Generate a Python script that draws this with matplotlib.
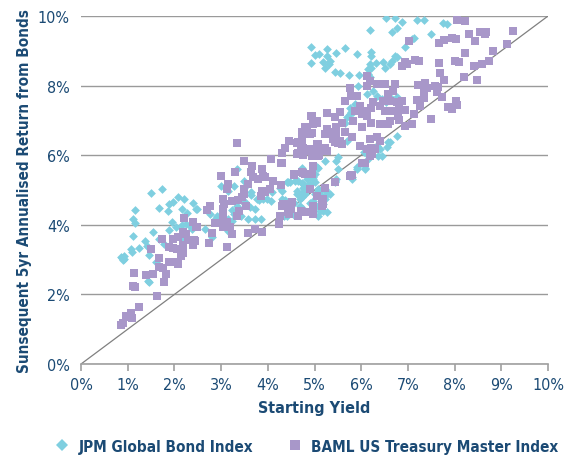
import matplotlib
matplotlib.use("Agg")
import matplotlib.pyplot as plt
from matplotlib.lines import Line2D

plt.rcParams['font.family'] = ['DejaVu Sans']
plt.rcParams['font.stretch'] = 'condensed'

# JPM Global Bond Index  (starting yield %, subsequent 5yr return %)
jpm_low = [(0.88, 3.05), (0.90, 3.00), (0.93, 3.10), (0.91, 3.02), (0.86, 3.08),
           (1.06, 3.30), (1.09, 3.22), (1.12, 3.69), (1.11, 4.17), (1.16, 4.05), (1.16, 4.43),
           (1.24, 3.33), (1.38, 3.53), (1.41, 3.40), (1.45, 3.13), (1.43, 2.39), (1.46, 2.36),
           (1.50, 4.90), (1.73, 5.03), (1.54, 3.80), (1.61, 2.93), (1.68, 4.47), (1.66, 3.59),
           (1.77, 3.45), (1.86, 4.41), (1.89, 4.60), (1.98, 4.66), (2.07, 4.79), (2.21, 4.74),
           (2.16, 4.45), (2.27, 4.33), (2.39, 4.64), (2.46, 4.45), (1.94, 4.07), (2.03, 3.95),
           (1.88, 3.86), (2.16, 4.00), (2.25, 4.02), (2.33, 3.98), (2.16, 3.61), (2.37, 3.88)]
jpm_mid = [(2.48, 4.45), (2.66, 3.88), (2.76, 4.31), (2.80, 3.64), (2.88, 4.21), (2.91, 4.26),
           (3.01, 4.18), (3.05, 4.17), (3.08, 4.12), (3.15, 4.17), (3.23, 4.12), (3.00, 5.12),
           (3.15, 4.98), (3.28, 5.12), (3.33, 5.60), (3.50, 5.27), (3.48, 5.07), (3.65, 4.93),
           (3.64, 4.86), (3.12, 3.90), (3.15, 3.83), (3.23, 4.43), (3.33, 4.43), (3.28, 4.31),
           (3.33, 4.55), (3.48, 4.64), (3.51, 4.66), (3.43, 4.24), (3.57, 4.17), (3.73, 4.17),
           (3.85, 4.17), (3.62, 4.50), (3.73, 4.45), (3.76, 4.74), (3.81, 4.72), (3.90, 4.74),
           (3.98, 4.74), (4.07, 4.69), (4.08, 4.93), (4.26, 5.07), (4.31, 4.98), (4.30, 4.74),
           (4.37, 4.72), (4.40, 5.24), (4.48, 5.24), (4.58, 5.27), (4.65, 5.27), (4.73, 5.20),
           (4.44, 5.22), (4.62, 4.89), (4.69, 4.74), (4.55, 4.64), (4.69, 4.55), (4.76, 4.45),
           (4.90, 4.64), (4.97, 4.45), (4.48, 4.50), (4.34, 4.26), (4.40, 4.24), (4.56, 4.29),
           (4.73, 5.62), (4.94, 5.51), (4.97, 5.32), (4.83, 5.41), (4.62, 4.98), (4.80, 4.89),
           (4.73, 4.79), (4.76, 5.07), (4.87, 5.12), (4.97, 5.36), (5.01, 5.22), (4.97, 5.60),
           (5.01, 5.46), (4.83, 5.32), (4.76, 5.17), (4.90, 5.17), (4.76, 4.93), (4.97, 4.69)]
jpm_diag = [(5.08, 5.03), (5.22, 5.03), (5.12, 4.89), (5.01, 4.89), (5.08, 4.55), (5.19, 4.60),
            (5.19, 4.41), (5.22, 4.84), (5.22, 4.74), (5.26, 4.93), (5.33, 4.89), (5.12, 4.41),
            (5.08, 4.26), (5.26, 4.36), (5.12, 4.60), (5.12, 4.98), (5.05, 5.65), (5.08, 5.62),
            (5.22, 5.84), (5.47, 5.84), (5.51, 5.94), (5.50, 5.60), (5.44, 5.27), (5.47, 5.32),
            (5.44, 5.22), (5.80, 5.36), (5.80, 5.32), (5.90, 5.60), (6.08, 5.60), (5.90, 5.65),
            (6.05, 5.75), (6.08, 5.63), (5.69, 6.40), (6.05, 6.08), (6.12, 6.03), (6.15, 5.89),
            (6.19, 6.13), (6.33, 6.23), (6.40, 6.18), (6.37, 5.99), (6.44, 5.99), (6.55, 6.23),
            (6.62, 6.37), (6.76, 6.56), (6.58, 6.37), (6.33, 6.27)]
jpm_high = [(5.65, 6.94), (5.69, 7.09), (5.76, 7.37), (5.79, 7.23), (5.87, 7.47), (5.83, 7.23),
            (5.76, 7.18), (5.90, 7.37), (5.94, 8.00), (6.12, 7.76), (6.26, 7.85), (6.33, 7.71),
            (6.44, 7.61), (6.54, 7.52), (6.65, 7.61), (6.76, 7.66), (5.44, 8.38), (5.54, 8.35),
            (5.73, 8.31), (5.96, 8.31), (6.19, 8.62), (6.15, 8.48), (6.22, 8.52), (6.15, 8.33),
            (6.19, 8.24), (6.32, 8.64), (6.47, 8.67), (6.51, 8.52), (6.62, 8.62), (6.65, 8.72),
            (6.76, 8.81), (6.72, 8.84), (4.93, 9.10), (5.01, 8.88), (5.10, 8.91), (4.93, 8.65),
            (5.26, 9.05), (5.26, 8.84), (5.19, 8.67), (5.22, 8.52), (5.30, 8.62), (5.33, 8.72),
            (5.47, 8.95), (5.65, 9.08), (5.92, 8.91), (6.21, 8.98), (6.21, 8.84), (6.19, 9.60),
            (6.54, 9.94), (6.72, 9.94), (6.76, 9.67), (6.65, 9.53), (6.87, 9.82), (7.19, 9.89),
            (7.35, 9.89), (7.75, 9.79), (7.83, 9.77), (7.49, 9.48), (7.12, 9.38), (7.09, 9.34),
            (6.94, 9.10)]

# BAML US Treasury Master Index
baml_low = [(0.86, 1.12), (0.89, 1.19), (0.96, 1.38), (1.03, 1.34), (1.10, 1.31), (1.08, 1.47),
            (1.25, 1.65), (1.62, 1.96), (1.11, 2.25), (1.16, 2.20), (1.14, 2.61), (1.39, 2.56),
            (1.55, 2.59), (1.82, 2.59), (1.77, 2.37), (1.66, 2.80), (1.75, 2.75), (1.68, 3.06),
            (1.89, 2.94), (2.02, 2.94), (2.07, 2.87), (1.50, 3.30), (1.89, 3.37), (1.96, 3.33),
            (2.05, 3.30), (2.18, 3.42), (2.19, 3.19), (2.14, 3.09), (1.73, 3.59), (1.98, 3.59),
            (2.07, 3.64), (2.30, 3.55), (2.42, 3.55), (2.39, 3.42), (2.18, 3.78), (2.25, 3.73),
            (2.21, 4.20), (2.39, 4.07), (2.46, 3.93), (2.44, 3.54), (2.48, 3.95)]
baml_mid = [(2.74, 3.48), (2.81, 3.76), (2.87, 4.05), (3.03, 3.93), (3.12, 4.07), (3.19, 3.93),
            (3.24, 3.74), (3.12, 3.35), (3.58, 3.76), (3.73, 3.88), (3.87, 3.80), (4.23, 4.02),
            (3.03, 4.17), (3.05, 4.31), (3.33, 4.26), (3.38, 4.41), (3.53, 4.55), (2.69, 4.43),
            (2.76, 4.55), (3.05, 4.45), (3.05, 4.74), (3.07, 4.60), (3.24, 4.67), (3.12, 5.03),
            (3.15, 5.17), (3.00, 5.41), (3.30, 5.53), (3.58, 5.17), (3.50, 5.03), (3.48, 4.89),
            (3.44, 4.79), (3.37, 4.72), (3.87, 4.98), (3.85, 4.82), (3.94, 4.93), (4.05, 5.02),
            (4.12, 5.27), (4.28, 5.14), (3.50, 5.82), (3.67, 5.70), (3.65, 5.53), (3.87, 5.60),
            (3.90, 5.41), (3.94, 5.36), (3.80, 5.32), (3.69, 5.36), (3.35, 6.35), (4.07, 5.89),
            (4.30, 5.79), (4.37, 6.22), (4.46, 6.42), (4.31, 6.05), (4.62, 6.35), (4.65, 6.05),
            (4.71, 6.20), (4.74, 6.47), (4.57, 5.46), (4.73, 5.51), (4.80, 5.46), (4.55, 5.43),
            (4.94, 5.46), (4.30, 4.53), (4.40, 4.53), (4.48, 4.60), (4.51, 4.66), (4.46, 4.31),
            (4.71, 4.41), (4.26, 4.26), (4.33, 4.60), (4.44, 4.55), (4.49, 4.45), (4.44, 4.36),
            (4.80, 4.36), (4.97, 4.31), (4.65, 4.26), (4.97, 4.53), (5.15, 4.55), (4.90, 5.03),
            (5.06, 4.84), (5.22, 5.05), (5.19, 4.74), (5.17, 4.64), (5.44, 5.24), (4.97, 5.68),
            (4.76, 5.48), (5.18, 4.60), (5.80, 5.44), (5.76, 5.41)]
baml_upper = [(4.73, 6.66), (4.87, 6.61), (4.83, 6.75), (4.94, 6.64), (5.22, 6.61), (5.33, 6.66),
              (5.26, 6.75), (5.47, 6.61), (5.51, 6.35), (5.44, 6.37), (4.73, 6.37), (4.76, 6.22),
              (4.90, 6.18), (5.08, 6.32), (5.22, 6.22), (5.26, 6.13), (5.10, 6.01), (4.94, 5.98),
              (4.76, 6.01), (4.62, 6.03), (4.93, 7.12), (5.05, 6.94), (4.82, 6.77), (4.90, 6.61),
              (4.65, 6.39), (4.97, 6.18), (5.05, 6.32), (4.29, 5.78), (4.80, 6.80), (4.97, 6.90),
              (5.47, 6.80), (5.65, 6.66), (5.80, 6.51), (5.97, 6.27), (6.19, 6.47), (6.33, 6.51),
              (6.40, 6.42), (6.01, 6.80), (6.40, 6.90), (6.58, 6.90), (5.40, 6.47), (5.54, 6.42),
              (5.58, 6.32), (5.12, 6.13), (5.08, 5.99), (4.87, 6.13), (6.12, 6.18), (6.22, 6.22),
              (6.24, 6.03), (6.08, 5.79), (6.19, 5.99), (6.29, 6.18), (6.01, 5.79), (5.79, 5.43),
              (5.26, 7.20), (5.44, 7.09), (5.54, 7.23), (5.58, 6.94), (5.05, 6.99), (4.94, 7.13),
              (5.83, 6.99), (6.22, 6.94), (6.44, 6.90), (6.62, 6.99), (6.12, 8.28), (6.19, 8.14),
              (5.75, 7.93), (5.79, 7.71), (5.90, 7.71), (6.12, 8.00), (6.33, 8.05), (6.51, 8.05),
              (6.72, 8.05), (6.58, 7.76), (6.69, 7.85), (6.47, 7.57), (6.62, 7.57), (6.80, 7.52),
              (6.26, 7.54), (6.22, 7.37), (6.08, 7.28), (5.97, 7.42), (5.87, 7.28), (6.01, 7.18),
              (6.12, 7.13), (6.40, 7.42), (6.51, 7.28), (6.62, 7.28), (6.76, 7.28), (5.65, 7.57)]
baml_high = [(8.06, 9.89), (8.22, 9.85), (9.26, 9.58), (8.54, 9.53), (8.64, 9.48), (8.67, 9.53),
             (8.31, 9.48), (7.95, 9.37), (8.04, 9.34), (7.78, 9.31), (7.67, 9.23), (8.44, 9.29),
             (7.03, 9.29), (9.12, 9.20), (8.83, 9.00), (8.22, 8.94), (7.15, 8.74), (7.24, 8.72),
             (6.94, 8.67), (6.99, 8.62), (6.88, 8.57), (7.67, 8.65), (8.01, 8.72), (8.10, 8.69),
             (8.74, 8.72), (8.58, 8.61), (8.42, 8.57), (7.69, 8.36), (7.78, 8.17), (8.21, 8.24),
             (8.47, 8.16), (7.22, 8.03), (7.37, 8.07), (7.40, 7.93), (7.35, 7.85), (7.57, 8.00),
             (7.64, 7.97), (7.62, 7.83), (7.74, 7.68), (7.35, 7.64), (7.19, 7.59), (6.87, 7.55),
             (6.76, 7.52), (6.80, 7.42), (8.03, 7.57), (8.06, 7.45), (7.85, 7.39), (7.94, 7.33),
             (7.26, 7.42), (6.94, 7.30), (6.78, 7.13), (6.80, 7.01), (7.12, 7.18), (7.09, 6.91),
             (6.94, 6.85), (7.49, 7.04)]

jpm = jpm_low + jpm_mid + jpm_diag + jpm_high
baml = baml_low + baml_mid + baml_upper + baml_high

navy = '#1b4a74'
cyan = '#7fcfe0'
purple = '#a897c9'

fig = plt.figure(figsize=(5.73, 4.60), dpi=100)
ax = fig.add_axes([0.1414, 0.2065, 0.815, 0.7565])

ax.plot([0, 10], [0, 10], color='#808080', lw=0.9, zorder=1)
ax.scatter([p[0] for p in jpm], [p[1] for p in jpm], marker='D', s=20,
           color=cyan, linewidths=0, zorder=3)
ax.scatter([p[0] for p in baml], [p[1] for p in baml], marker='s', s=28,
           color=purple, linewidths=0, zorder=3)

ax.set_xlim(0, 10)
ax.set_ylim(0, 10)
ax.set_xticks(range(0, 11))
ax.set_xticklabels([f'{i}%' for i in range(0, 11)])
ax.set_yticks(range(0, 11, 2))
ax.set_yticklabels([f'{i}%' for i in range(0, 11, 2)])
ax.grid(axis='y', color='#9a9a9a', lw=1.0, zorder=0)
ax.set_axisbelow(True)
for s in ['left', 'right', 'top']:
    ax.spines[s].set_visible(False)
ax.spines['bottom'].set_color('#a0a0a0')
ax.spines['bottom'].set_linewidth(1.2)
ax.tick_params(axis='x', colors='#a0a0a0', length=5, width=1.2, direction='out',
               labelcolor=navy, labelsize=11.5, pad=4)
ax.tick_params(axis='y', length=0, labelcolor=navy, labelsize=11.5, pad=8)

ax.set_xlabel('Starting Yield', color=navy, fontsize=11.5, fontweight='bold', labelpad=6)
ax.set_ylabel('Sunsequent 5yr Annualised Return from Bonds', color=navy, fontsize=11,
              fontweight='bold', labelpad=4)

handles = [Line2D([], [], marker='D', ls='none', color=cyan, markersize=6, mew=0),
           Line2D([], [], marker='s', ls='none', color=purple, markersize=7, mew=0)]
leg = fig.legend(handles, ['JPM Global Bond Index', 'BAML US Treasury Master Index'],
                 loc='center', bbox_to_anchor=(0.535, 0.028), ncol=2, frameon=False,
                 fontsize=11, handlelength=1.0, handletextpad=0.6, columnspacing=2.2)
for t in leg.get_texts():
    t.set_color(navy)
    t.set_fontweight('bold')

fig.savefig('out.png', dpi=100)
